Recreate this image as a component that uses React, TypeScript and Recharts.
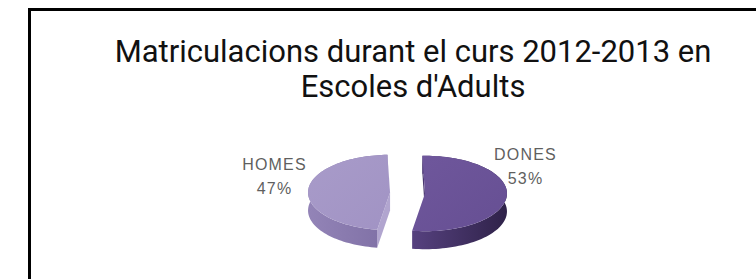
import React from 'react';
import { PieChart, Pie } from 'recharts';

const categories = ['DONES', 'HOMES'];
const shares = [53, 47];
const percentLabels = ['53%', '47%'];
const data = categories.map((name, i) => ({ name, value: shares[i], pct: percentLabels[i] }));

const TILT = 0.46;
const DEPTH = 18;
const EXPLODE = 17.5;
const TOP_COLORS = ['#664f93', '#a193c4'];
const TOP_LIGHT = ['#6f579c', '#a89bc9'];
const SIDE_FROM = ['#56417f', '#9384b7'];
const SIDE_TO = ['#2f2249', '#7f70a5'];
const FACE_COLORS = ['#4a376f', '#b1a5cf'];
const LABEL_DX = [118, -133];
const LABEL_DY = [-33, -23];

const RAD = Math.PI / 180;

function Slice(props: any) {
  const { cx, cy, outerRadius, startAngle, endAngle, index } = props;
  const mid = (startAngle + endAngle) / 2;
  const ox = cx + EXPLODE * Math.cos(mid * RAD);
  const oy = cy - EXPLODE * TILT * Math.sin(mid * RAD);
  const pt = (a: number, dz = 0) => [
    ox + outerRadius * Math.cos(a * RAD),
    oy - outerRadius * TILT * Math.sin(a * RAD) + dz,
  ];
  const n = 80;
  const arc: number[] = [];
  for (let k = 0; k <= n; k++) arc.push(startAngle + ((endAngle - startAngle) * k) / n);
  const f = (p: number[]) => `${p[0].toFixed(2)},${p[1].toFixed(2)}`;
  const top = `M${ox},${oy} ` + arc.map((a) => 'L' + f(pt(a))).join(' ') + ' Z';
  const rim =
    'M' + arc.map((a) => f(pt(a))).join(' L') + ' L' + arc.slice().reverse().map((a) => f(pt(a, DEPTH))).join(' L') + ' Z';
  const dir = endAngle < startAngle ? 1 : -1;
  const faces: string[] = [];
  const faceFor = (a: number, normal: number) => {
    if (Math.sin(normal * RAD) < 0) {
      const p = pt(a);
      const q = pt(a, DEPTH);
      faces.push(`M${ox},${oy} L${f(p)} L${f(q)} L${ox},${oy + DEPTH} Z`);
    }
  };
  faceFor(startAngle, startAngle + 90 * dir);
  faceFor(endAngle, endAngle - 90 * dir);
  const gid = `side-${index}`;
  const tid = `top-${index}`;
  return (
    <g>
      <defs>
        <linearGradient id={gid} x1="0" y1="0" x2="1" y2="0">
          <stop offset="0%" stopColor={SIDE_FROM[index]} />
          <stop offset="100%" stopColor={SIDE_TO[index]} />
        </linearGradient>
        <linearGradient id={tid} x1="0" y1="0" x2="1" y2="1">
          <stop offset="0%" stopColor={TOP_LIGHT[index]} />
          <stop offset="100%" stopColor={TOP_COLORS[index]} />
        </linearGradient>
      </defs>
      {faces.map((d, i) => (
        <path key={i} d={d} fill={FACE_COLORS[index]} />
      ))}
      <path d={rim} fill={`url(#${gid})`} />
      <path d={top} fill={`url(#${tid})`} />
    </g>
  );
}

function SliceLabel(props: any) {
  const { cx, cy, index, payload } = props;
  const x = cx + LABEL_DX[index];
  const y = cy + LABEL_DY[index];
  return (
    <text
      x={x}
      y={y}
      textAnchor="middle"
      fill="#5f5f5f"
      fontFamily="Liberation Sans, Arial, sans-serif"
      fontSize={16}
      letterSpacing={1.2}
    >
      <tspan x={x} y={y}>{payload.name}</tspan>
      <tspan x={x} y={y + 24}>{payload.pct}</tspan>
    </text>
  );
}

export default function App() {
  return (
    <div style={{ position: 'absolute', left: 0, top: 0, width: 756, height: 279, overflow: 'hidden', background: '#fff' }}>
      <div
        style={{
          position: 'absolute',
          left: 0,
          top: -18,
          width: 804,
          textAlign: 'center',
          fontFamily: 'Roboto, sans-serif',
          fontWeight: 700,
          fontSize: 22,
          lineHeight: '22px',
          letterSpacing: 4,
          color: '#a0a0a0',
        }}
      >
        GRÀFIC 1
      </div>
      <div
        style={{
          position: 'absolute',
          left: 28,
          top: 8,
          width: 800,
          height: 400,
          border: '3px solid #000',
          boxSizing: 'border-box',
        }}
      />
      <div
        style={{
          position: 'absolute',
          left: 0,
          top: 34,
          width: 826,
          textAlign: 'center',
          fontFamily: 'Roboto, sans-serif',
          fontSize: 31,
          lineHeight: '35px',
          color: '#111',
        }}
      >
        Matriculacions durant el curs 2012-2013 en
        <br />
        Escoles d'Adults
      </div>
      <div style={{ position: 'absolute', left: 0, top: 0 }}>
        <PieChart width={756} height={279}>
          <Pie
            data={data}
            dataKey="value"
            nameKey="name"
            cx={402.5}
            cy={188}
            outerRadius={82}
            startAngle={91.8}
            endAngle={-268.2}
            stroke="none"
            isAnimationActive={false}
            shape={Slice}
            inactiveShape={Slice}
            activeShape={Slice}
            label={SliceLabel}
            labelLine={false}
          />
        </PieChart>
      </div>
    </div>
  );
}
